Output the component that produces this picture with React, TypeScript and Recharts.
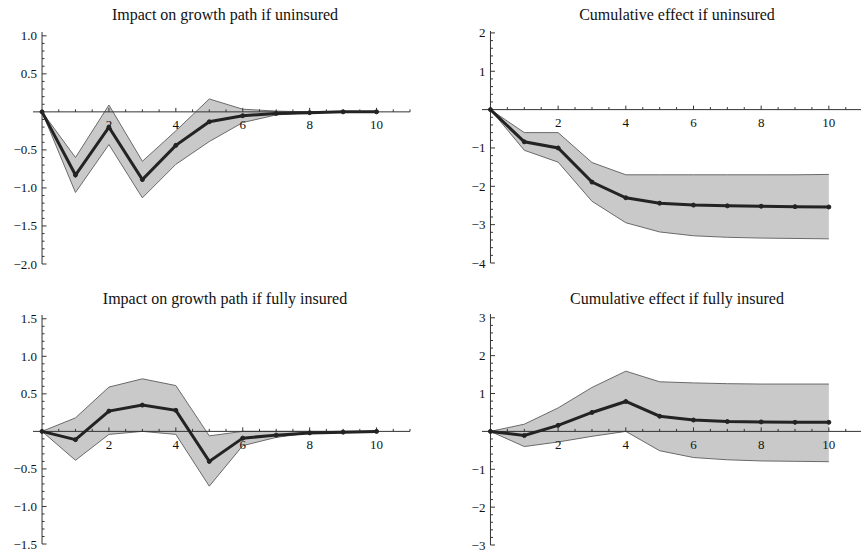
import React from "react";
import {
  ComposedChart,
  Area,
  Line,
  XAxis,
  YAxis,
  ReferenceLine,
  ReferenceDot,
} from "recharts";

// horizon (periods after the shock)
const periods = [0, 1, 2, 3, 4, 5, 6, 7, 8, 9, 10];

// impact on growth path if uninsured
const impactUninsMid = [0, -0.83, -0.2, -0.89, -0.44, -0.13, -0.05, -0.02, -0.01, 0, 0];
const impactUninsLow = [0, -1.06, -0.43, -1.13, -0.69, -0.39, -0.14, -0.04, -0.01, 0, 0];
const impactUninsHigh = [0, -0.6, 0.09, -0.65, -0.25, 0.17, 0.035, 0.01, 0, 0, 0];

// cumulative effect if uninsured
const cumUninsMid = [0, -0.84, -1.0, -1.89, -2.3, -2.44, -2.49, -2.51, -2.52, -2.53, -2.54];
const cumUninsLow = [0, -1.06, -1.37, -2.39, -2.95, -3.19, -3.29, -3.33, -3.35, -3.36, -3.37];
const cumUninsHigh = [0, -0.6, -0.6, -1.38, -1.7, -1.7, -1.7, -1.7, -1.7, -1.7, -1.69];

// impact on growth path if fully insured
const impactInsMid = [0, -0.11, 0.27, 0.35, 0.28, -0.4, -0.09, -0.05, -0.02, -0.01, 0];
const impactInsLow = [0, -0.385, -0.04, 0, -0.04, -0.73, -0.19, -0.08, -0.02, -0.01, 0];
const impactInsHigh = [0, 0.18, 0.59, 0.7, 0.61, -0.06, 0, 0, 0, 0, 0];

// cumulative effect if fully insured
const cumInsMid = [0, -0.11, 0.16, 0.5, 0.79, 0.4, 0.3, 0.26, 0.25, 0.24, 0.24];
const cumInsLow = [0, -0.4, -0.28, -0.13, 0, -0.51, -0.69, -0.75, -0.78, -0.79, -0.8];
const cumInsHigh = [0, 0.19, 0.62, 1.16, 1.59, 1.31, 1.28, 1.26, 1.25, 1.25, 1.25];

// axis ticks
const xMajorTicks = [2, 4, 6, 8, 10];
const xMinorStep = 0.5;
const yTicksHalf = [-2, -1.5, -1, -0.5, 0.5, 1, 1.5];
const yTicksUnit = [-4, -3, -2, -1, 1, 2, 3];

const FONT = "'Liberation Serif', 'DejaVu Serif', serif";
const AXIS = "#333";
const TITLE_SIZE = 16;
const TICK_SIZE = 13;

const buildRows = (mid: number[], low: number[], high: number[]) =>
  periods.map((p, i) => ({ x: p, mid: mid[i], band: [low[i], high[i]] }));

const minus = (s: string) => s.replace("-", "\u2212");

const range = (from: number, to: number, step: number) => {
  const out: number[] = [];
  for (let v = from; v <= to + 1e-9; v += step) out.push(Math.round(v * 1000) / 1000);
  return out;
};

interface PanelProps {
  title: string;
  rows: { x: number; mid: number; band: number[] }[];
  left: number;
  top: number;
  width: number;
  margin: { top: number; right: number; bottom: number; left: number };
  xDomain: [number, number];
  yDomain: [number, number];
  yMajor: number[];
  yMinorStep: number;
  decimals: number;
  titleX: number;
  titleBaseline: number;
}

const Panel: React.FC<PanelProps> = (p) => {
  const xMinor = range(xMinorStep, Math.floor(p.xDomain[1] * 2) / 2, xMinorStep).filter(
    (v) => !xMajorTicks.includes(v)
  );
  const yMinor = range(p.yDomain[0], p.yDomain[1], p.yMinorStep).filter(
    (v) => Math.abs(v) > 1e-6 && !p.yMajor.some((m) => Math.abs(m - v) < 1e-6)
  );
  const yMajor = p.yMajor.filter((v) => v >= p.yDomain[0] && v <= p.yDomain[1]);
  const lineH = 22;
  const baseOff = (lineH - 1.107 * TITLE_SIZE) / 2 + 0.891 * TITLE_SIZE;

  return (
    <div style={{ position: "absolute", left: p.left, top: p.top, width: p.width, height: 276 }}>
      <div
        style={{
          position: "absolute",
          left: p.titleX - 200,
          width: 400,
          top: p.titleBaseline - baseOff,
          height: lineH,
          lineHeight: lineH + "px",
          textAlign: "center",
          fontFamily: FONT,
          fontSize: TITLE_SIZE,
          color: "#111",
          whiteSpace: "nowrap",
        }}
      >
        {p.title}
      </div>
      <ComposedChart width={p.width} height={276} data={p.rows} margin={p.margin}>
        <XAxis type="number" dataKey="x" domain={p.xDomain} hide allowDataOverflow />
        <YAxis type="number" domain={p.yDomain} hide allowDataOverflow />
        <Area
          type="linear"
          dataKey="band"
          fill="#c9c9c9"
          fillOpacity={1}
          stroke="#6a6a6a"
          strokeWidth={1}
          dot={false}
          activeDot={false}
          isAnimationActive={false}
        />
        <ReferenceLine y={0} stroke={AXIS} strokeWidth={1} />
        <ReferenceLine x={0} stroke={AXIS} strokeWidth={1} />
        {xMinor.map((v) => (
          <ReferenceDot
            key={"xm" + v}
            x={v}
            y={0}
            shape={(s: any) => (
              <line x1={s.cx} x2={s.cx} y1={s.cy} y2={s.cy - 2.5} stroke={AXIS} strokeWidth={1} />
            )}
          />
        ))}
        {xMajorTicks.map((v) => (
          <ReferenceDot
            key={"xM" + v}
            x={v}
            y={0}
            shape={(s: any) => (
              <g>
                <line x1={s.cx} x2={s.cx} y1={s.cy} y2={s.cy - 4} stroke={AXIS} strokeWidth={1} />
                <text
                  x={s.cx}
                  y={s.cy + 13}
                  textAnchor="middle"
                  dominantBaseline="central"
                  fontFamily={FONT}
                  fontSize={TICK_SIZE}
                  fill="#111"
                >
                  {v}
                </text>
              </g>
            )}
          />
        ))}
        {yMinor.map((v) => (
          <ReferenceDot
            key={"ym" + v}
            x={0}
            y={v}
            shape={(s: any) => (
              <line x1={s.cx} x2={s.cx + 2.5} y1={s.cy} y2={s.cy} stroke={AXIS} strokeWidth={1} />
            )}
          />
        ))}
        {yMajor.map((v) => (
          <ReferenceDot
            key={"yM" + v}
            x={0}
            y={v}
            shape={(s: any) => (
              <g>
                <line x1={s.cx} x2={s.cx + 4.5} y1={s.cy} y2={s.cy} stroke={AXIS} strokeWidth={1} />
                <text
                  x={s.cx - 5}
                  y={s.cy}
                  textAnchor="end"
                  dominantBaseline="central"
                  fontFamily={FONT}
                  fontSize={TICK_SIZE}
                  fill="#111"
                >
                  {minus(v.toFixed(p.decimals))}
                </text>
              </g>
            )}
          />
        ))}
        <Line
          type="linear"
          dataKey="mid"
          stroke="#232323"
          strokeWidth={3}
          dot={{ r: 2, fill: "#232323", stroke: "#232323", strokeWidth: 1 }}
          activeDot={false}
          isAnimationActive={false}
        />
      </ComposedChart>
    </div>
  );
};

export default function App() {
  return (
    <div style={{ position: "absolute", left: 0, top: 0, width: 861, height: 552, background: "#fff" }}>
      <Panel
        title="Impact on growth path if uninsured"
        rows={buildRows(impactUninsMid, impactUninsLow, impactUninsHigh)}
        left={0}
        top={0}
        width={430}
        margin={{ top: 32, right: 20, bottom: 12, left: 33 }}
        xDomain={[-0.27, 11]}
        yDomain={[-2, 1.05]}
        yMajor={yTicksHalf}
        yMinorStep={0.1}
        decimals={1}
        titleX={225}
        titleBaseline={20}
      />
      <Panel
        title="Cumulative effect if uninsured"
        rows={buildRows(cumUninsMid, cumUninsLow, cumUninsHigh)}
        left={430}
        top={0}
        width={431}
        margin={{ top: 31, right: 0, bottom: 13, left: 52 }}
        xDomain={[-0.25, 10.95]}
        yDomain={[-4, 2.05]}
        yMajor={yTicksUnit}
        yMinorStep={0.2}
        decimals={0}
        titleX={247}
        titleBaseline={20}
      />
      <Panel
        title="Impact on growth path if fully insured"
        rows={buildRows(impactInsMid, impactInsLow, impactInsHigh)}
        left={0}
        top={276}
        width={430}
        margin={{ top: 39, right: 20, bottom: 8, left: 33 }}
        xDomain={[-0.27, 11]}
        yDomain={[-1.5, 1.55]}
        yMajor={yTicksHalf}
        yMinorStep={0.1}
        decimals={1}
        titleX={225}
        titleBaseline={28}
      />
      <Panel
        title="Cumulative effect if fully insured"
        rows={buildRows(cumInsMid, cumInsLow, cumInsHigh)}
        left={430}
        top={276}
        width={431}
        margin={{ top: 38, right: 0, bottom: 7, left: 52 }}
        xDomain={[-0.25, 10.95]}
        yDomain={[-3, 3.1]}
        yMajor={yTicksUnit}
        yMinorStep={0.2}
        decimals={0}
        titleX={247}
        titleBaseline={28}
      />
    </div>
  );
}
